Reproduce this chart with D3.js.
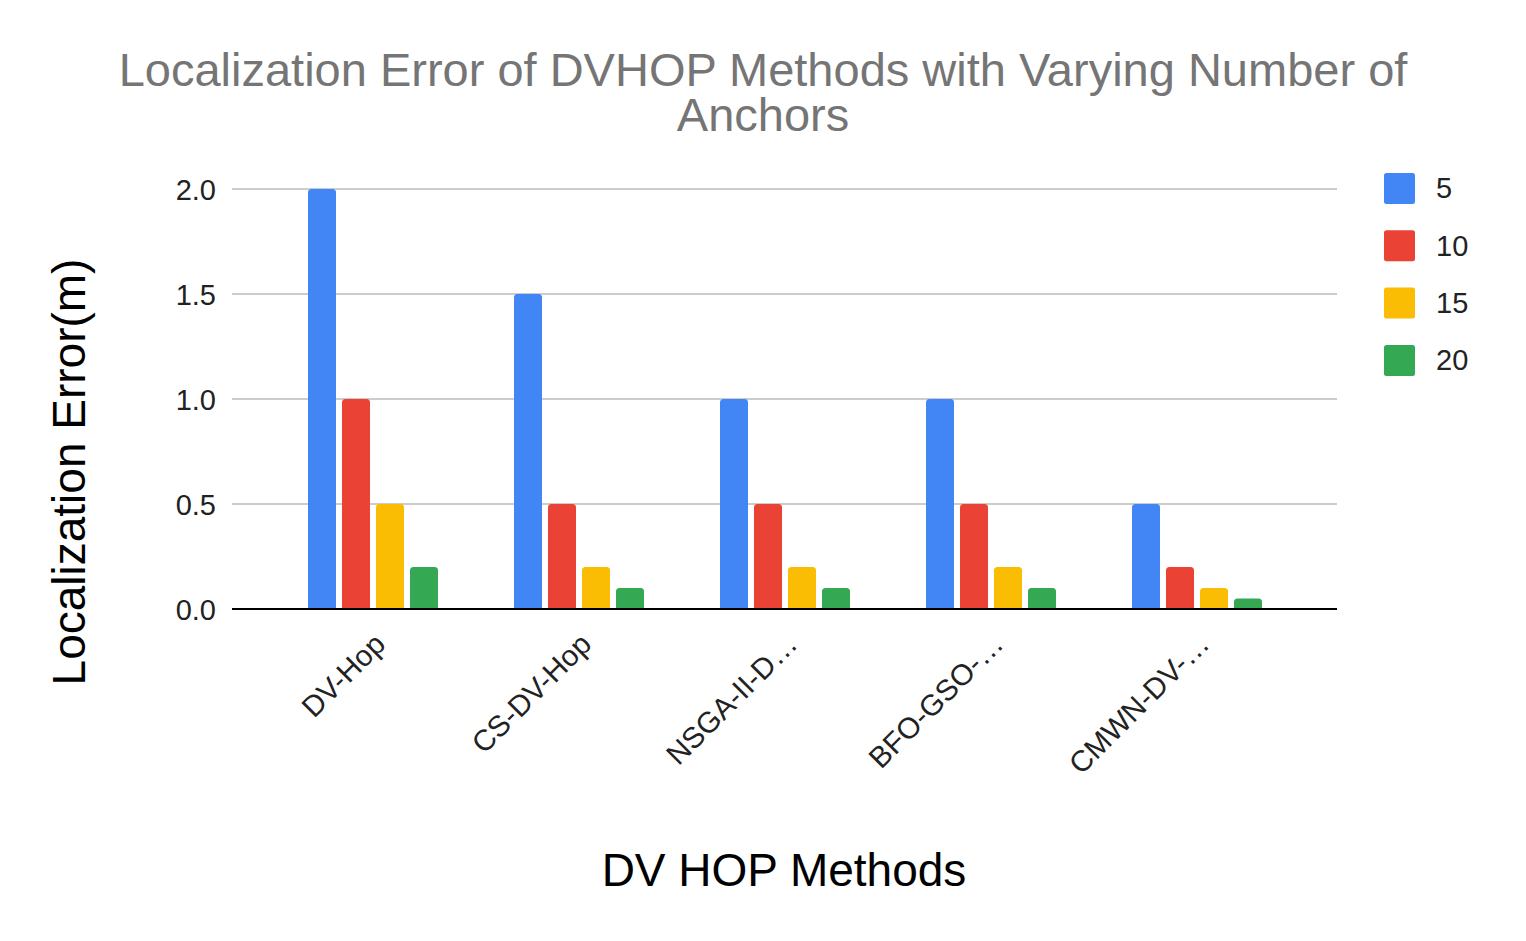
<!DOCTYPE html>
<html>
<head>
<meta charset="utf-8">
<script src="https://cdn.jsdelivr.net/npm/d3@7"></script>
<style>
  html, body { margin: 0; padding: 0; background: #fff; }
  svg { display: block; font-family: "Liberation Sans", Arial, sans-serif; }
</style>
</head>
<body>
<svg id="chart" width="1526" height="941"></svg>
<script>
const categories = ["DV-Hop", "CS-DV-Hop", "NSGA-II-D…", "BFO-GSO-…", "CMWN-DV-…"];
const seriesNames = ["5", "10", "15", "20"];
const values5  = [2.0, 1.5, 1.0, 1.0, 0.5];
const values10 = [1.0, 0.5, 0.5, 0.5, 0.2];
const values15 = [0.5, 0.2, 0.2, 0.2, 0.1];
const values20 = [0.2, 0.1, 0.1, 0.1, 0.05];
const yTicks = [0, 0.5, 1.0, 1.5, 2.0];
const colors = ["#4285F4", "#EA4335", "#FBBC04", "#34A853"];

const seriesValues = [values5, values10, values15, values20];
const data = categories.map((c, i) => ({
  cat: c,
  vals: seriesNames.map((s, j) => ({ key: s, value: seriesValues[j][i], color: colors[j] }))
}));

const svg = d3.select("#chart");

const gridLeft = 232, gridRight = 1337;
const x0 = d3.scaleBand().domain(categories).range([270, 1300]).padding(0);
const x1 = d3.scaleBand().domain(seriesNames).range([0, 130]).paddingInner(6 / 34).paddingOuter(0);
const y = d3.scaleLinear().domain([0, 2]).range([609, 189]);
const groupOffset = (x0.bandwidth() - 130) / 2;

// Gridlines
svg.append("g")
  .selectAll("line")
  .data(yTicks.filter(t => t !== 0))
  .join("line")
  .attr("x1", gridLeft).attr("x2", gridRight)
  .attr("y1", d => y(d)).attr("y2", d => y(d))
  .attr("stroke", "#cccccc").attr("stroke-width", 2);

// Y axis tick labels
const yAxis = d3.axisLeft(y).tickValues(yTicks).tickFormat(d3.format(".1f")).tickSize(0).tickPadding(0);
const yg = svg.append("g").attr("transform", `translate(216,0)`).call(yAxis);
yg.select(".domain").remove();
yg.selectAll("text")
  .attr("font-size", 29).attr("fill", "#222").attr("font-family", "Liberation Sans, Arial, sans-serif")
  .attr("dy", "0.36em");

// Bars with rounded top corners
function topRoundedRect(x, yTop, w, h, r) {
  r = Math.min(r, h, w / 2);
  return `M${x},${yTop + h}V${yTop + r}Q${x},${yTop} ${x + r},${yTop}H${x + w - r}Q${x + w},${yTop} ${x + w},${yTop + r}V${yTop + h}Z`;
}

const groups = svg.append("g").selectAll("g")
  .data(data).join("g")
  .attr("transform", d => `translate(${x0(d.cat) + groupOffset},0)`);

groups.selectAll("path")
  .data(d => d.vals).join("path")
  .attr("d", d => topRoundedRect(x1(d.key), y(d.value), x1.bandwidth(), y(0) - y(d.value), 3.5))
  .attr("fill", d => d.color);

// Zero baseline
svg.append("line")
  .attr("x1", gridLeft).attr("x2", gridRight)
  .attr("y1", y(0)).attr("y2", y(0))
  .attr("stroke", "#000").attr("stroke-width", 2);

// X axis labels (rotated)
const xAxis = d3.axisBottom(x0).tickSize(0).tickPadding(0);
const xg = svg.append("g").call(xAxis);
xg.select(".domain").remove();
xg.selectAll(".tick").attr("transform", d => `translate(${x0(d) + x0.bandwidth() / 2 + 14},646)`);
xg.selectAll("text")
  .attr("font-size", 29.5).attr("fill", "#222").attr("font-family", "Liberation Sans, Arial, sans-serif")
  .attr("text-anchor", "end").attr("dy", 0).attr("y", 0)
  .attr("transform", "rotate(-45)");

// Title
const title = svg.append("text")
  .attr("x", 763).attr("y", 86)
  .attr("text-anchor", "middle")
  .attr("font-size", 47).attr("fill", "#757575");
title.append("tspan").attr("x", 763).attr("y", 86).text("Localization Error of DVHOP Methods with Varying Number of");
title.append("tspan").attr("x", 763).attr("y", 131).text("Anchors");

// Axis titles
svg.append("text")
  .attr("transform", "translate(85,472) rotate(-90)")
  .attr("text-anchor", "middle")
  .attr("font-size", 46).attr("fill", "#000")
  .text("Localization Error(m)");

svg.append("text")
  .attr("x", 784).attr("y", 886)
  .attr("text-anchor", "middle")
  .attr("font-size", 46).attr("fill", "#000")
  .text("DV HOP Methods");

// Legend
const legend = svg.append("g").selectAll("g")
  .data(seriesNames).join("g")
  .attr("transform", (d, i) => `translate(1384,${188 + i * 57.3})`);
legend.append("rect")
  .attr("x", 0).attr("y", -15).attr("width", 31).attr("height", 31)
  .attr("rx", 2.5).attr("fill", (d, i) => colors[i]);
legend.append("text")
  .attr("x", 52).attr("y", 0).attr("dy", "0.36em")
  .attr("font-size", 29).attr("fill", "#222")
  .text(d => d);
</script>
</body>
</html>
